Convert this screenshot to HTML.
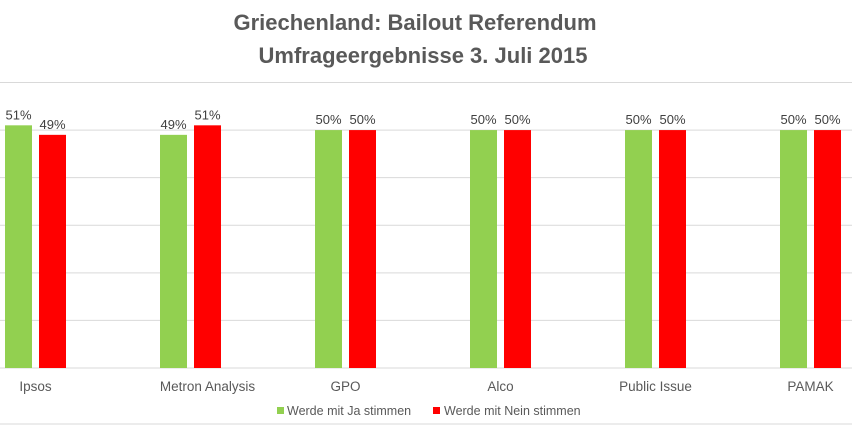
<!DOCTYPE html>
<html><head><meta charset="utf-8"><style>
body{margin:0;background:#fff;}
svg{display:block;font-family:"Liberation Sans",sans-serif;}
</style></head><body>
<svg id="c" width="852" height="426">
<text x="415" y="30" text-anchor="middle" font-size="22" font-weight="bold" fill="#595959">Griechenland: Bailout Referendum</text>
<text x="423" y="63" text-anchor="middle" font-size="22" font-weight="bold" fill="#595959">Umfrageergebnisse 3. Juli 2015</text>
<g id="grid"></g><g id="bars"></g><g id="labels"></g>
<line x1="0" y1="424" x2="852" y2="424" stroke="#d9d9d9"/>
<rect x="277" y="407" width="7" height="7" fill="#92d050"/>
<text x="287" y="415" font-size="12.5" fill="#595959">Werde mit Ja stimmen</text>
<rect x="433" y="407" width="7" height="7" fill="#ff0000"/>
<text x="444" y="415" font-size="12.5" fill="#595959">Werde mit Nein stimmen</text>
</svg>
<script>
const categories=["Ipsos","Metron Analysis","GPO","Alco","Public Issue","PAMAK"];
const jaValues=[51,49,50,50,50,50];
const neinValues=[49,51,50,50,50,50];
const gridTicks=[10,20,30,40,50,60];
const NS="http://www.w3.org/2000/svg";
const x0=-42,cw=155,yBase=368,yTop=82.5,maxV=60;
const y=v=>yBase-(v/maxV)*(yBase-yTop);
const cx=i=>x0+cw*(i+0.5);
function mk(tag,attrs,parent,txt){const e=document.createElementNS(NS,tag);for(const k in attrs)e.setAttribute(k,attrs[k]);if(txt!=null)e.textContent=txt;document.getElementById(parent).appendChild(e);return e;}
gridTicks.forEach(t=>{const l=mk('line',{x1:0,x2:852,y1:y(t),y2:y(t),stroke:'#d9d9d9'},'grid');

});
const bl=mk('line',{x1:0,x2:852,y1:yBase,y2:yBase,stroke:'#d9d9d9'},'grid');


categories.forEach((c,i)=>{
 const c0=cx(i);
 const g=mk('rect',{x:c0-30.5,y:y(jaValues[i]),width:27,height:yBase-y(jaValues[i]),fill:'#92d050'},'bars');
 
 
 const r=mk('rect',{x:c0+3.5,y:y(neinValues[i]),width:27,height:yBase-y(neinValues[i]),fill:'#ff0000'},'bars');
 
 
 const t1=mk('text',{x:c0-17,y:y(jaValues[i])-6,'text-anchor':'middle','font-size':13,fill:'#404040'},'labels',jaValues[i]+'%');
 
 
 const t2=mk('text',{x:c0+17,y:y(neinValues[i])-6,'text-anchor':'middle','font-size':13,fill:'#404040'},'labels',neinValues[i]+'%');
 
 
 const cl=mk('text',{x:c0+(i===1?17:0),y:391,'text-anchor':'middle','font-size':13.5,fill:'#595959'},'labels',c);
 
 
});
</script>
</body></html>
